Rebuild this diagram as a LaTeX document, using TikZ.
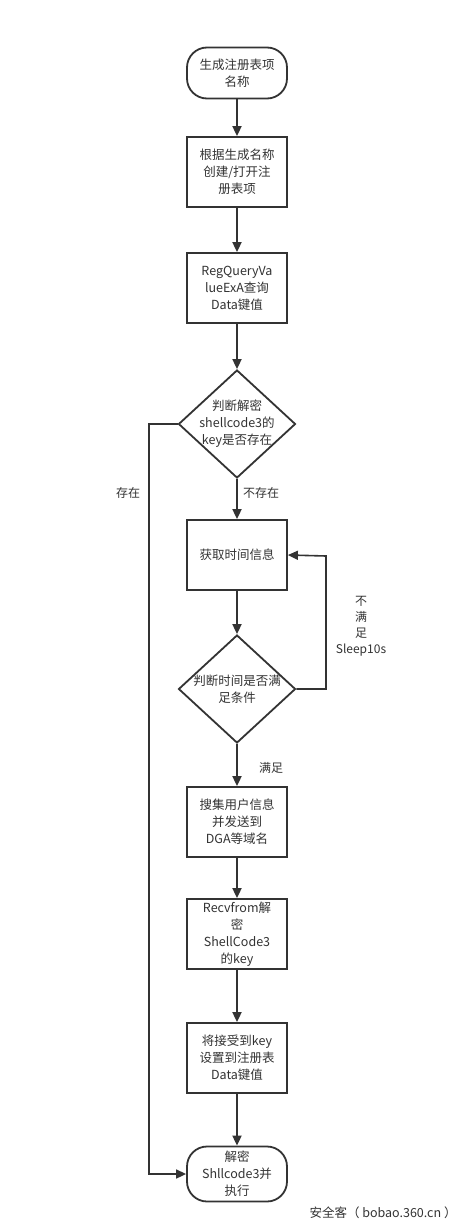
\documentclass[tikz,border=0pt]{standalone}
\usepackage{fontspec}
\setmainfont{Noto Sans CJK SC}
\usetikzlibrary{shapes.geometric,arrows.meta}
\definecolor{ink}{HTML}{333333}
\definecolor{txt}{HTML}{333333}
\begin{document}
\begin{tikzpicture}[x=1pt,y=-1pt,
  every node/.style={font=\fontsize{12.5}{17}\selectfont, text=txt, align=center},
  term/.style={draw=ink, line width=1.8pt, rounded corners=20pt, minimum width=100pt, inner sep=0pt},
  proc/.style={draw=ink, line width=1.8pt, minimum width=100pt, minimum height=70pt, inner sep=0pt},
  diam/.style={draw=ink, line width=1.8pt, diamond, minimum width=117pt, minimum height=108pt, inner sep=0pt},
  arr/.style={draw=ink, line width=1.8pt, -{Triangle[length=10pt,width=9pt]}},
  lab/.style={font=\fontsize{12}{16}\selectfont}]
\useasboundingbox (0,0) rectangle (473,1231);
\fill[white] (0,0) rectangle (473,1231);

\node[term, minimum height=51pt] (n1) at (237,73) {生成注册表项\\名称};
\node[proc] (n2) at (237,172) {根据生成名称\\创建/打开注\\册表项};
\node[proc] (n3) at (237,288) {RegQueryVa\\lueExA查询\\Data键值};
\node[diam] (n4) at (237,424) {};
\node (n4t) at (237,424) {判断解密\\shellcode3的\\key是否存在};
\node[proc] (n5) at (237,555) {获取时间信息};
\node[diam] (n6) at (237,689) {};
\node (n6t) at (237,689) {判断时间是否满\\足条件};
\node[proc] (n7) at (237,822) {搜集用户信息\\并发送到\\DGA等域名};
\node[proc] (n8) at (237,934) {Recvfrom解\\密\\ShellCode3\\的key};
\node[proc] (n9) at (237,1058) {将接受到key\\设置到注册表\\Data键值};
\node[term, minimum height=55pt] (n10) at (237,1174) {解密\\Shllcode3并\\执行};

\coordinate (loop) at (326,556);
\coordinate (left) at (149,1174);

\draw[arr] (n1) -- (n2);
\draw[arr] (n2) -- (n3);
\draw[arr] (n3) -- (n4);
\draw[arr] (n4) -- (n5);
\draw[arr] (n5) -- (n6);
\draw[arr] (n6) -- (n7);
\draw[arr] (n7) -- (n8);
\draw[arr] (n8) -- (n9);
\draw[arr] (n9) -- (n10);
\draw[arr, line width=1.6pt] (n6.east) -| (loop) -- (n5.east);
\draw[arr, line width=1.6pt] (n4.west) -| (left) -- (n10.west);

\node[lab] (l1) at (128,493) {存在};
\node[lab] (l2) at (261,493) {不存在};
\node[lab] (l3) at (271,768) {满足};
\node[lab] (l4) at (361,626) {不\\满\\足\\Sleep10s};
\node[font=\fontsize{12.5}{14}\selectfont] (wm) at (383,1213) {安全客（ bobao.360.cn ）};
\end{tikzpicture}
\end{document}
